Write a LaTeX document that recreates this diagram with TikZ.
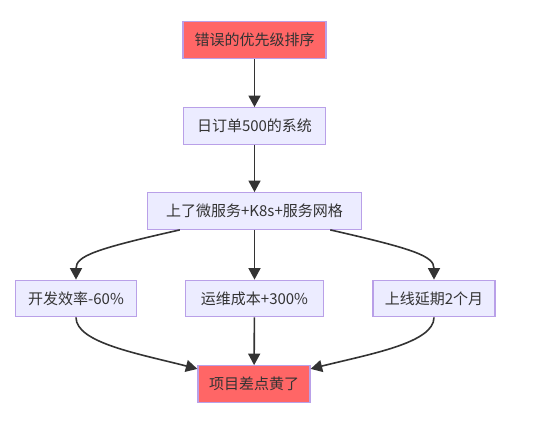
\documentclass[tikz,border=0pt]{standalone}
\usepackage{fontspec}
\setmainfont{Noto Sans CJK SC}
\usetikzlibrary{arrows.meta,calc}
\definecolor{boxfill}{HTML}{ECECFF}
\definecolor{boxline}{RGB}{185,160,232}
\definecolor{redfill}{HTML}{FF6666}
\definecolor{txt}{HTML}{333333}
\definecolor{edge}{HTML}{333333}
\begin{document}
\begin{tikzpicture}[x=1pt,y=-1pt,
  box/.style={draw=boxline,line width=1.3pt,fill=boxfill,rectangle,minimum height=36.5pt,inner sep=0pt,text=txt,font=\fontsize{15pt}{18pt}\selectfont},
  hot/.style={box,fill=redfill},
  link/.style={draw=edge,line width=1.6pt,-{Triangle[length=11.5pt,width=12pt]}}]
\useasboundingbox (0,0) rectangle (542,421);
\node[hot,minimum width=143pt] (n1) at (254.5,40) {错误的优先级排序};
\node[box,minimum width=142pt] (n2) at (254.5,126) {日订单500的系统};
\node[box,minimum width=214pt] (n3) at (254.5,211) {上了微服务+K8s+服务网格};
\node[box,minimum width=121pt] (n4) at (76,298.5) {开发效率-60\%};
\node[box,minimum width=137.5pt] (n5) at (254.5,298.5) {运维成本+300\%};
\node[box,minimum width=122pt] (n6) at (434,298.5) {上线延期2个月};
\node[hot,minimum width=112pt] (n7) at (254,384) {项目差点黄了};
\coordinate (s3l) at ($(n3.south west)!0.153!(n3.south east)$);
\coordinate (s3r) at ($(n3.south west)!0.852!(n3.south east)$);
\coordinate (e7l) at ($(n7.north west)!0.1!(n7.south west)$);
\coordinate (e7r) at ($(n7.north east)!0.1!(n7.south east)$);
\draw[link] (n1) -- (n2);
\draw[link] (n2) -- (n3);
\draw[link] (n3) -- (n5);
\draw[link] (s3l) .. controls (95,249) and (76,256) .. (n4.north);
\draw[link] (s3r) .. controls (414,249) and (434,256) .. (n6.north);
\draw[link] (n5) -- (n7);
\draw[link] (n4.south) .. controls (76,343) and (140,354) .. (e7l);
\draw[link] (n6.south) .. controls (434,343) and (370,354) .. (e7r);
\end{tikzpicture}
\end{document}
